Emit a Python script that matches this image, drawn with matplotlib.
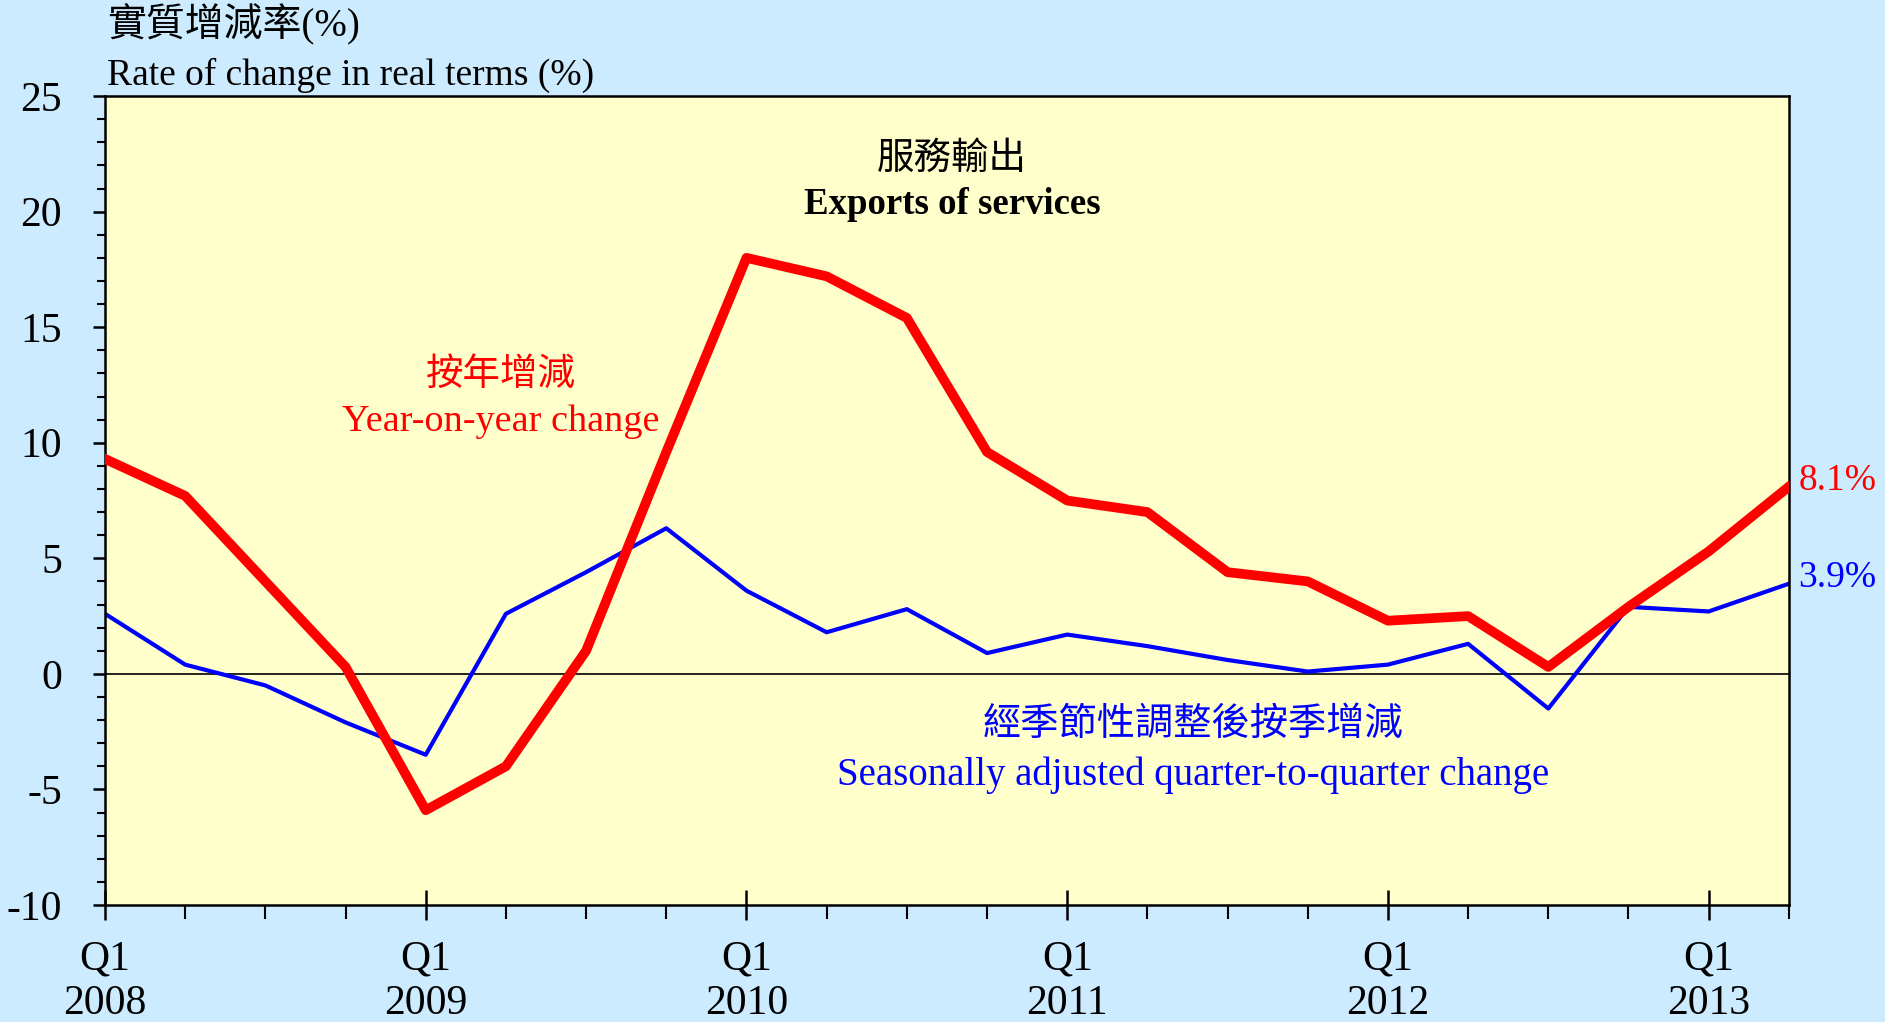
import matplotlib
matplotlib.use("Agg")
import matplotlib.pyplot as plt
from matplotlib.ticker import MultipleLocator, FixedLocator, FuncFormatter

plt.rcParams["font.family"] = ["Liberation Serif", "Noto Sans CJK TC"]

# Quarterly data, 2008 Q1 - 2013 Q2
quarters = ["2008Q1", "2008Q2", "2008Q3", "2008Q4",
            "2009Q1", "2009Q2", "2009Q3", "2009Q4",
            "2010Q1", "2010Q2", "2010Q3", "2010Q4",
            "2011Q1", "2011Q2", "2011Q3", "2011Q4",
            "2012Q1", "2012Q2", "2012Q3", "2012Q4",
            "2013Q1", "2013Q2"]
yoy = [9.3, 7.7, 4.0, 0.3, -5.9, -4.0, 1.0, 9.6, 18.0, 17.2, 15.4, 9.6,
       7.5, 7.0, 4.4, 4.0, 2.3, 2.5, 0.3, 2.9, 5.3, 8.1]
qoq = [2.6, 0.4, -0.5, -2.1, -3.5, 2.6, 4.4, 6.3, 3.6, 1.8, 2.8, 0.9,
       1.7, 1.2, 0.6, 0.1, 0.4, 1.3, -1.5, 2.9, 2.7, 3.9]
year_labels = ["Q1\n2008", "Q1\n2009", "Q1\n2010", "Q1\n2011", "Q1\n2012", "Q1\n2013"]

x = list(range(len(quarters)))

fig = plt.figure(figsize=(18.85, 10.22), dpi=100, facecolor="#CCEBFF")
ax = fig.add_axes([0.0557, 0.1145, 0.8933, 0.7915], facecolor="#FFFFCC")

ax.axhline(0, color="black", lw=1.2, zorder=1)
ax.plot(x, qoq, color="#0000FF", lw=3, zorder=2)
ax.plot(x, yoy, color="#FF0000", lw=7, zorder=3)

ax.set_xlim(0, len(quarters) - 1)
ax.set_ylim(-10, 25)

for s in ax.spines.values():
    s.set_linewidth(1.8)

# y axis
ax.yaxis.set_major_locator(MultipleLocator(5))
ax.yaxis.set_minor_locator(MultipleLocator(1))
ax.yaxis.set_major_formatter(FuncFormatter(lambda v, p: f"{v:.0f}"))
ax.tick_params(axis="y", which="major", direction="out", length=9, width=1.8,
               labelsize=30, pad=22)
ax.tick_params(axis="y", which="minor", direction="out", length=6, width=1.5)

# x axis
ax.xaxis.set_major_locator(FixedLocator([i for i in x if i % 4 == 0]))
ax.xaxis.set_minor_locator(FixedLocator(x))
ax.set_xticklabels(year_labels)
ax.tick_params(axis="x", which="major", direction="inout", length=22, width=1.8,
               labelsize=30, pad=14)
ax.tick_params(axis="x", which="minor", direction="out", length=10, width=1.5)
for lab in ax.get_xticklabels():
    lab.set_linespacing(1.22)

# axis title
fig.text(0.057, 0.976, "實質增減率(%)", fontsize=28, va="center", ha="left")
fig.text(0.057, 0.926, "Rate of change in real terms (%)", fontsize=27,
         va="center", ha="left")

# chart title
ax.text(0.503, 0.922, "服務輸出", transform=ax.transAxes, fontsize=27,
        ha="center", va="center")
ax.text(0.503, 0.866, "Exports of services", transform=ax.transAxes, fontsize=26.5,
        fontweight="bold", ha="center", va="center")

# series labels
ax.text(0.235, 0.655, "按年增減", transform=ax.transAxes, fontsize=27,
        color="#FF0000", ha="center", va="center")
ax.text(0.235, 0.597, "Year-on-year change", transform=ax.transAxes, fontsize=27.5,
        color="#FF0000", ha="center", va="center")
ax.text(0.646, 0.223, "經季節性調整後按季增減", transform=ax.transAxes, fontsize=27.5,
        color="#0000FF", ha="center", va="center")
ax.text(0.646, 0.160, "Seasonally adjusted quarter-to-quarter change",
        transform=ax.transAxes, fontsize=28, color="#0000FF",
        ha="center", va="center")

# end-point values
ax.annotate(f"{yoy[-1]:.1f}%", (x[-1], yoy[-1]), xytext=(7, 4),
            textcoords="offset points", fontsize=27, color="#FF0000",
            ha="left", va="center", annotation_clip=False)
ax.annotate(f"{qoq[-1]:.1f}%", (x[-1], qoq[-1]), xytext=(7, 4),
            textcoords="offset points", fontsize=27, color="#0000FF",
            ha="left", va="center", annotation_clip=False)

fig.savefig("out.png", dpi=100, facecolor=fig.get_facecolor())
